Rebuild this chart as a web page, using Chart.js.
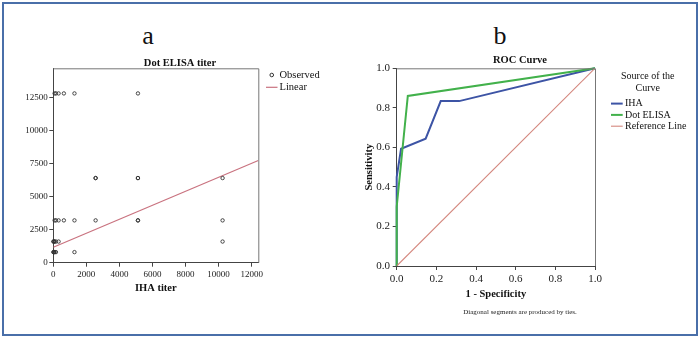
<!DOCTYPE html>
<html>
<head>
<meta charset="utf-8">
<title>Dot ELISA and IHA titers</title>
<script src="https://cdn.jsdelivr.net/npm/chart.js@4.4.1/dist/chart.umd.min.js"></script>
<style>
  html, body { margin: 0; padding: 0; background: #fff; }
  body { width: 700px; height: 337px; position: relative; overflow: hidden; font-family: 'Liberation Serif', 'Times New Roman', serif; }
  .frame { position: absolute; left: 2px; top: 2px; width: 696px; height: 334px; box-sizing: border-box; border: 2px solid #4a6fa9; }
  .panel { position: absolute; top: 23px; font-size: 26px; line-height: 1; color: #111; transform: translateX(-50%); }
  #scatterChart { position: absolute; left: 10px; top: 40px; }
  #rocChart { position: absolute; left: 350px; top: 40px; }
</style>
</head>
<body>
<div class="frame"></div>
<div class="panel" style="left:148px">a</div>
<div class="panel" style="left:500px">b</div>
<canvas id="scatterChart" width="340" height="260"></canvas>
<canvas id="rocChart" width="340" height="280"></canvas>
<script>
// titers per serum sample
const ihaTiter = [
    80, 160, 320, 640, 1280, 5120,
    2560, 2560, 5120, 5120, 10240,
    80, 160, 320, 640, 1280, 2560, 5120, 5120, 10240,
    10, 20, 40, 80, 160, 320, 10240,
    10, 20, 40, 80, 160, 1280
];
const dotElisaTiter = [
    12800, 12800, 12800, 12800, 12800, 12800,
    6400, 6400, 6400, 6400, 6400,
    3200, 3200, 3200, 3200, 3200, 3200, 3200, 3200, 3200,
    1600, 1600, 1600, 1600, 1600, 1600, 1600,
    800, 800, 800, 800, 800, 800
];

// fitted linear line, end points
const fitX = [0, 12400];
const fitY = [1170, 7730];

const ihaTicks = [0, 2000, 4000, 6000, 8000, 10000, 12000];
const elisaTicks = [0, 2500, 5000, 7500, 10000, 12500];

// ROC curves (1 - specificity, sensitivity)
const ihaFpr = [0, 0, 0.022, 0.146, 0.222, 0.315, 1];
const ihaTpr = [0, 0.45, 0.593, 0.644, 0.834, 0.834, 1];
const dotFpr = [0, 0, 0.056, 1];
const dotTpr = [0, 0.3, 0.86, 1];
const refFpr = [0, 1];
const refTpr = [0, 1];

const rocTicks = [0, 0.2, 0.4, 0.6, 0.8, 1.0];

const serif = "'Liberation Serif', 'Times New Roman', serif";
Chart.defaults.font.family = serif;
Chart.defaults.color = '#111';

const toPoints = (xs, ys) => xs.map((x, i) => ({ x: x, y: ys[i] }));
const fixedTicks = list => function (s) { s.ticks = list.map(v => ({ value: v })); };

// box line on top and right of the plot area
const plotFrame = {
    id: 'plotFrame',
    afterDatasetsDraw(chart) {
        const { ctx, chartArea: a } = chart;
        ctx.save();
        ctx.strokeStyle = '#777';
        ctx.lineWidth = 1;
        ctx.beginPath();
        ctx.moveTo(a.left, a.top + 0.5);
        ctx.lineTo(a.right + 0.5, a.top + 0.5);
        ctx.lineTo(a.right + 0.5, a.bottom);
        ctx.stroke();
        ctx.restore();
    }
};

// legend to the right of the plot
const sideLegend = {
    id: 'sideLegend',
    afterDraw(chart, args, opts) {
        const { ctx, chartArea } = chart;
        const x0 = chartArea.right + opts.dx;
        let y = chartArea.top + opts.dy;
        ctx.save();
        ctx.font = opts.font;
        ctx.fillStyle = '#111';
        ctx.textBaseline = 'middle';
        if (opts.title) {
            ctx.textAlign = 'center';
            opts.title.forEach(line => {
                ctx.fillText(line, chartArea.right + opts.titleX, y);
                y += opts.lineGap;
            });
            y += opts.titleGap;
        }
        ctx.textAlign = 'left';
        chart.data.datasets.forEach(ds => {
            ctx.strokeStyle = ds.borderColor;
            ctx.beginPath();
            if (ds.pointRadius > 0) {
                ctx.lineWidth = 1;
                ctx.arc(x0 + opts.markW / 2, y, 1.8, 0, Math.PI * 2);
            } else {
                ctx.lineWidth = ds.borderWidth;
                ctx.moveTo(x0, y);
                ctx.lineTo(x0 + opts.markW, y);
            }
            ctx.stroke();
            ctx.fillText(ds.label, x0 + opts.markW + opts.gap, y);
            y += opts.lineGap;
        });
        ctx.restore();
    }
};

// empty axis that keeps room for the legend
const legendRoom = w => ({
    type: 'linear',
    position: 'right',
    grid: { display: false, drawTicks: false },
    border: { display: false },
    ticks: { display: false },
    afterFit(s) { s.width = w; }
});

const axisGrid = { drawOnChartArea: false, tickLength: 4, color: '#444' };

new Chart(document.getElementById('scatterChart'), {
    type: 'scatter',
    data: {
        datasets: [{
            label: 'Observed',
            data: toPoints(ihaTiter, dotElisaTiter),
            pointRadius: 1.7,
            borderWidth: 0.9,
            borderColor: '#333',
            backgroundColor: 'rgba(0,0,0,0)',
            clip: false,
            yAxisID: 'y'
        }, {
            type: 'line',
            label: 'Linear',
            data: toPoints(fitX, fitY),
            borderColor: '#c9727f',
            borderWidth: 1.2,
            pointRadius: 0,
            yAxisID: 'y'
        }]
    },
    options: {
        responsive: false,
        animation: false,
        layout: { padding: 0 },
        plugins: {
            legend: { display: false },
            tooltip: { enabled: false },
            title: {
                display: true,
                text: 'Dot ELISA titer',
                font: { size: 10.5, weight: 'bold', lineHeight: 1 },
                padding: { top: 18.5, bottom: -0.7 }
            },
            sideLegend: { dx: 7.7, dy: 6.7, markW: 11.5, gap: 2, lineGap: 12.3, font: '10.5px ' + serif }
        },
        scales: {
            x: {
                type: 'linear',
                min: 0,
                max: 12400,
                grid: axisGrid,
                border: { color: '#444' },
                afterBuildTicks: fixedTicks(ihaTicks),
                ticks: { padding: 3, font: { size: 9 }, color: '#222', maxRotation: 0, callback: v => String(v) },
                title: { display: true, text: 'IHA titer', font: { size: 10.5, weight: 'bold', lineHeight: 1 }, padding: { top: 0, bottom: 6.45 } },
                afterFit(s) { s.height = 37.3; }
            },
            y: {
                type: 'linear',
                min: 0,
                max: 14700,
                grid: axisGrid,
                border: { color: '#444' },
                afterBuildTicks: fixedTicks(elisaTicks),
                ticks: { padding: 1.5, font: { size: 9 }, color: '#222', callback: v => String(v) },
                afterFit(s) { s.width = 43.3; }
            },
            pad: legendRoom(91.7)
        }
    },
    plugins: [plotFrame, sideLegend]
});

new Chart(document.getElementById('rocChart'), {
    type: 'line',
    data: {
        datasets: [{
            label: 'IHA',
            data: toPoints(ihaFpr, ihaTpr),
            borderColor: '#3d54a5',
            borderWidth: 2,
            pointRadius: 0,
            order: 2,
            clip: 2,
            yAxisID: 'y'
        }, {
            label: 'Dot ELISA',
            data: toPoints(dotFpr, dotTpr),
            borderColor: '#42b14b',
            borderWidth: 2,
            pointRadius: 0,
            order: 1,
            clip: 2,
            yAxisID: 'y'
        }, {
            label: 'Reference Line',
            data: toPoints(refFpr, refTpr),
            borderColor: '#d4877e',
            borderWidth: 1.1,
            pointRadius: 0,
            order: 0,
            yAxisID: 'y'
        }]
    },
    options: {
        responsive: false,
        animation: false,
        layout: { padding: 0 },
        plugins: {
            legend: { display: false },
            tooltip: { enabled: false },
            title: {
                display: true,
                text: 'ROC Curve',
                font: { size: 10.5, weight: 'bold', lineHeight: 1 },
                padding: { top: 15.4, bottom: 2.4 }
            },
            subtitle: {
                display: true,
                position: 'bottom',
                text: 'Diagonal segments are produced by ties.',
                font: { size: 7, lineHeight: 1 },
                color: '#222',
                padding: { top: 6, bottom: 4.8 }
            },
            sideLegend: {
                title: ['Source of the', 'Curve'], titleX: 52.7, titleGap: 4.3,
                dx: 16, dy: 8.4, markW: 11.7, gap: 2.3, lineGap: 11.3, font: '10px ' + serif
            }
        },
        scales: {
            x: {
                type: 'linear',
                min: 0,
                max: 1,
                grid: axisGrid,
                border: { color: '#444' },
                afterBuildTicks: fixedTicks(rocTicks),
                ticks: { padding: 3, font: { size: 11 }, color: '#222', callback: v => v.toFixed(1) },
                title: { display: true, text: '1 - Specificity', font: { size: 10.5, weight: 'bold', lineHeight: 1 }, padding: { top: 0, bottom: 2.65 } },
                afterFit(s) { s.height = 36.2; }
            },
            y: {
                type: 'linear',
                min: 0,
                max: 1,
                grid: axisGrid,
                border: { color: '#444' },
                afterBuildTicks: fixedTicks(rocTicks),
                ticks: { padding: 2.7, font: { size: 11 }, color: '#222', callback: v => v.toFixed(1) },
                title: { display: true, text: 'Sensitivity', font: { size: 10.5, weight: 'bold', lineHeight: 1 }, padding: { top: 13.75, bottom: 0 } },
                afterFit(s) { s.width = 46.7; }
            },
            pad: legendRoom(95)
        }
    },
    plugins: [plotFrame, sideLegend]
});
</script>
</body>
</html>
